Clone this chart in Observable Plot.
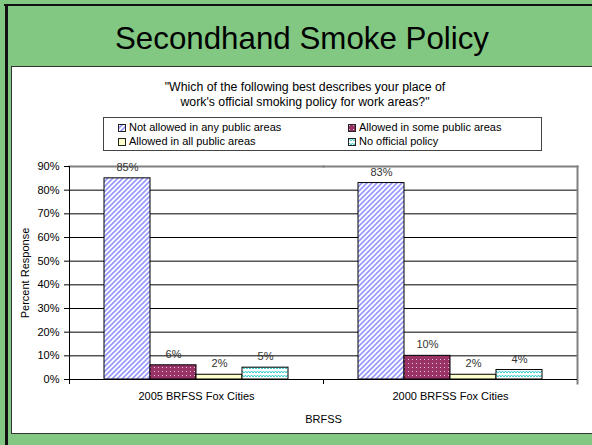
<!DOCTYPE html>
<html><head><meta charset="utf-8">
<script src="https://cdn.jsdelivr.net/npm/d3@7"></script>
<script src="https://cdn.jsdelivr.net/npm/@observablehq/plot@0.6"></script>
<style>
html,body{margin:0;padding:0;background:#fff;}
#page{position:relative;width:592px;height:445px;background:#82c882;overflow:hidden;font-family:"Liberation Sans",Arial,sans-serif;color:#000;}
#topline{position:absolute;left:4px;top:4px;width:600px;height:2px;background:#111;}
#leftline{position:absolute;left:5px;top:4px;width:3px;height:445px;background:#111;}
#title{position:absolute;left:0;width:604px;top:23px;line-height:31px;text-align:center;font-size:31.3px;white-space:nowrap;}
#panel{position:absolute;left:11px;top:66px;width:600px;height:366px;background:#fff;border:1px solid #333;border-right:none;}
#subtitle{position:absolute;left:0;width:610px;top:80px;font-size:12.3px;line-height:15px;text-align:center;white-space:nowrap;}
#legend{position:absolute;left:103px;top:117px;width:439px;height:34px;box-sizing:border-box;border:1px solid #444;background:#fff;}
.li{position:absolute;font-size:11px;line-height:13px;white-space:nowrap;}
.sw{position:absolute;width:8px;height:8px;}
#chart{position:absolute;left:0;top:150px;}
</style>
</head><body>
<svg width="0" height="0" style="position:absolute">
<defs>
<pattern id="p0" width="5" height="5" patternUnits="userSpaceOnUse"><rect width="5" height="5" fill="#fff"/><path d="M-1,1 l2,-2 M0,5 l5,-5 M4,6 l2,-2" stroke="#9999ff" stroke-width="1.7"/></pattern>
<pattern id="p1" width="4" height="4" patternUnits="userSpaceOnUse"><rect width="4" height="4" fill="#993366"/><rect x="1" y="1" width="1" height="1" fill="#e6c6d6"/></pattern>
<pattern id="p2" width="4" height="4" patternUnits="userSpaceOnUse"><rect width="4" height="4" fill="#ffffcc"/></pattern>
<pattern id="p3" width="6" height="4" patternUnits="userSpaceOnUse"><rect width="6" height="4" fill="#fff"/><path d="M0,3 L1.5,1 L3,3 L4.5,1 L6,3" fill="none" stroke="#33cccc" stroke-width="1"/></pattern>
</defs>
</svg>
<div id="page">
  <div id="topline"></div>
  <div id="leftline"></div>
  <div id="title">Secondhand Smoke Policy</div>
  <div id="panel"></div>
  <div id="subtitle">"Which of the following best describes your place of<br>work's official smoking policy for work areas?"</div>
  <div id="legend"></div>
  <div id="chart"></div>
</div>
<script>
const categories = ["2005 BRFSS Fox Cities", "2000 BRFSS Fox Cities"];
const series = ["Not allowed in any public areas", "Allowed in some public areas", "Allowed in all public areas", "No official policy"];
const values2005 = [0.85, 0.06, 0.02, 0.05];
const values2000 = [0.83, 0.10, 0.02, 0.04];
const yTicks = [0, 0.1, 0.2, 0.3, 0.4, 0.5, 0.6, 0.7, 0.8, 0.9];
const fills = ["url(#p0)", "url(#p1)", "url(#p2)", "url(#p3)"];

const valuesByCat = [values2005, values2000];
const rows = categories.flatMap((c, i) => series.map((s, j) => ({cat: c, series: s, value: valuesByCat[i][j]})));

// legend
const legend = document.getElementById("legend");
const legendPos = [[118, 121], [348, 121], [118, 135], [348, 135]];
const legendOrder = [0, 1, 2, 3];
legendOrder.forEach((j, k) => {
  const [lx, ly] = legendPos[k];
  const sw = document.createElementNS("http://www.w3.org/2000/svg", "svg");
  sw.setAttribute("class", "sw");
  sw.setAttribute("width", 8); sw.setAttribute("height", 8);
  sw.style.left = (lx - 103 - 1) + "px";
  sw.style.top = (ly - 117 - 1 + 3) + "px";
  sw.innerHTML = `<rect x="0.5" y="0.5" width="7" height="7" fill="${fills[j]}" stroke="#222" stroke-width="1"/>`;
  legend.appendChild(sw);
  const t = document.createElement("div");
  t.className = "li";
  t.style.left = (lx - 103 - 1 + 11) + "px";
  t.style.top = (ly - 117 - 1) + "px";
  t.textContent = series[j];
  legend.appendChild(t);
});

const W = 592, H = 283, mT = 16, mB = 54, mL = 68, mR = 15;
const plotH = H - mT - mB;
const pct = d3.format(".0%");

const chart = Plot.plot({
  width: W, height: H,
  marginTop: mT, marginBottom: mB, marginLeft: mL, marginRight: mR,
  style: {background: "transparent", fontFamily: "Liberation Sans, Arial, sans-serif", fontSize: "11px", color: "#000"},
  fx: {domain: categories, padding: 0, label: "BRFSS"},
  x: {domain: series, paddingInner: 0, paddingOuter: 0.737, axis: null},
  y: {domain: [0, 0.9]},
  marks: [
    Plot.ruleY(yTicks.filter(t => t > 0 && t < 0.9), {stroke: "#000", strokeOpacity: 1, strokeWidth: 1}),
    Plot.frame({anchor: "top", stroke: "#808080", strokeWidth: 2}),
    Plot.frame({anchor: "right", stroke: "#808080", strokeWidth: 2, insetBottom: -4, fx: () => categories[1]}),
    Plot.frame({anchor: "left", stroke: "#000", insetBottom: -4, fx: () => categories[0]}),
    Plot.frame({anchor: "left", stroke: "#000", insetTop: plotH, insetBottom: -4, fx: () => categories[1]}),
    ...series.map((s, j) => Plot.barY(rows.filter(r => r.series === s), {fx: "cat", x: "series", y: "value", fill: fills[j], stroke: "#000", strokeWidth: 1})),
    Plot.ruleY([0], {stroke: "#000"}),
    Plot.text(rows, {fx: "cat", x: "series", y: "value", text: d => pct(d.value), dy: -11, fontSize: 11, fill: "#333"}),
    Plot.axisY({anchor: "left", ticks: yTicks, tickFormat: pct, tickSize: 5, tickPadding: 5, fontSize: 11, label: "Percent Response", labelAnchor: "center", labelOffset: 48, labelArrow: "none"}),
    Plot.axisFx({anchor: "bottom", tickSize: 0, tickPadding: 13, fontSize: 11, label: "BRFSS", labelAnchor: "center", labelOffset: 43, labelArrow: "none"})
  ]
});
document.getElementById("chart").appendChild(chart);
</script>
</body></html>
